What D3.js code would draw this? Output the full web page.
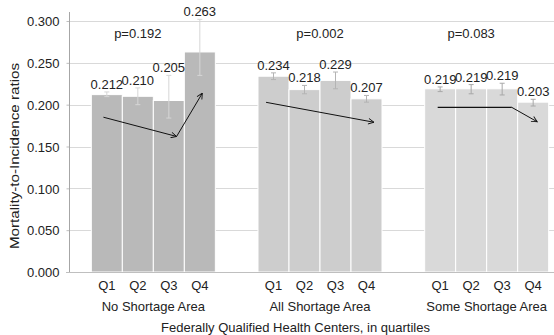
<!DOCTYPE html>
<html><head><meta charset="utf-8">
<script src="https://cdn.jsdelivr.net/npm/d3@7"></script>
<style>html,body{margin:0;padding:0;background:#fff;overflow:hidden}svg{display:block;font-family:"Liberation Sans",Arial,sans-serif}</style>
</head><body><div id="chart"></div>
<script>
const groups = ["No Shortage Area", "All Shortage Area", "Some Shortage Area"];
const quartiles = ["Q1", "Q2", "Q3", "Q4"];
const noShortage = [0.212, 0.210, 0.205, 0.263];
const allShortage = [0.234, 0.218, 0.229, 0.207];
const someShortage = [0.219, 0.219, 0.219, 0.203];
const errLow = [[0.2096, 0.200, 0.184, 0.235], [0.230, 0.213, 0.219, 0.203], [0.2156, 0.213, 0.2116, 0.1984]];
const errHigh = [[0.2152, 0.220, 0.235, 0.302], [0.238, 0.223, 0.239, 0.211], [0.2212, 0.224, 0.2256, 0.2064]];
const pLabels = ["p=0.192", "p=0.002", "p=0.083"];
const pAt = [1, 1.5, 1];
const pValue = 0.28;
const yTicks = [0, 0.05, 0.10, 0.15, 0.20, 0.25, 0.30];
// trend arrows: [quartile position, value]
const trends = [
  [[-0.11, 0.185], [2.25, 0.162], [3.08, 0.2137]],
  [[-0.24, 0.2028], [3.24, 0.179]],
  [[-0.08, 0.1968], [2.31, 0.1968], [3.13, 0.1796]]
];
const trendHeads = [[true, true], [true], [false, true]];
const values = [noShortage, allShortage, someShortage];

const W = 554, H = 335;
const barColors = ["#b9b9b9", "#cdcdcd", "#d9d9d9"];
const errColors = ["#d6d6d6", "#b4b4b4", "#a8a8a8"];

const svg = d3.select("#chart").append("svg").attr("width", W).attr("height", H);
const defs = svg.append("defs");
defs.append("marker").attr("id", "arr").attr("viewBox", "0 0 10 10").attr("refX", 9).attr("refY", 5)
  .attr("markerWidth", 7).attr("markerHeight", 7).attr("markerUnits", "userSpaceOnUse").attr("orient", "auto")
  .append("path").attr("d", "M1,1 L9,5 L1,9").attr("fill", "none").attr("stroke", "#111").attr("stroke-width", 1.3);

const y = d3.scaleLinear().domain([0, 0.3]).range([272, 21]);
const xg = d3.scaleBand().domain(groups).range([70, 570]).paddingInner(0.256).paddingOuter(0.128);
const xq = d3.scaleBand().domain(quartiles).range([0, xg.bandwidth()]).padding(0);
const qx = (g, pos) => xg(groups[g]) + (pos + 0.5) * xq.bandwidth();

// gridlines
svg.append("g").selectAll("line").data(yTicks.filter(d => d > 0)).join("line")
  .attr("x1", 69).attr("x2", W).attr("y1", d => Math.round(y(d)) + 0.5).attr("y2", d => Math.round(y(d)) + 0.5)
  .attr("stroke", "#d9d9d9").attr("stroke-width", 1);

// y axis
const yAxis = d3.axisLeft(y).tickValues(yTicks).tickFormat(d3.format(".3f")).tickSize(3).tickPadding(7);
const ya = svg.append("g").attr("transform", "translate(69.5,0)").call(yAxis);
ya.select(".domain").remove();
ya.selectAll(".tick line").attr("stroke", "#bfbfbf");
ya.selectAll(".tick text").attr("font-size", 13).attr("fill", "#222").attr("font-family", "Liberation Sans, Arial, sans-serif").attr("dy", "0.36em");
svg.append("line").attr("x1", 69.5).attr("x2", 69.5).attr("y1", 12).attr("y2", 272).attr("stroke", "#a6a6a6");

// bars
groups.forEach((g, gi) => {
  const gg = svg.append("g").attr("transform", `translate(${xg(g)},0)`);
  gg.selectAll("rect").data(values[gi]).join("rect")
    .attr("x", (d, i) => xq(quartiles[i])).attr("width", xq.bandwidth())
    .attr("y", d => y(d)).attr("height", d => y(0) - y(d))
    .attr("fill", barColors[gi]).attr("stroke", "#fff").attr("stroke-width", 1);
  // error bars
  values[gi].forEach((v, i) => {
    const cx = xq(quartiles[i]) + xq.bandwidth() / 2;
    const e = gg.append("g").attr("stroke", errColors[gi]).attr("stroke-width", 1);
    e.append("line").attr("x1", cx).attr("x2", cx).attr("y1", y(errLow[gi][i])).attr("y2", y(errHigh[gi][i]));
    e.append("line").attr("x1", cx - 2.5).attr("x2", cx + 2.5).attr("y1", y(errLow[gi][i])).attr("y2", y(errLow[gi][i]));
    e.append("line").attr("x1", cx - 2.5).attr("x2", cx + 2.5).attr("y1", y(errHigh[gi][i])).attr("y2", y(errHigh[gi][i]));
  });
  // value labels
  gg.selectAll("text.v").data(values[gi]).join("text").attr("class", "v")
    .attr("x", (d, i) => xq(quartiles[i]) + xq.bandwidth() / 2)
    .attr("y", (d, i) => y(errHigh[gi][i]) - 3)
    .attr("text-anchor", "middle").attr("font-size", 13).attr("fill", "#222")
    .text(d => d3.format(".3f")(d));
  // p label
  svg.append("text").attr("x", qx(gi, pAt[gi])).attr("y", y(pValue)).attr("text-anchor", "middle")
    .attr("font-size", 13).attr("fill", "#222").text(pLabels[gi]);
  // quartile labels
  gg.selectAll("text.q").data(quartiles).join("text").attr("class", "q")
    .attr("x", d => xq(d) + xq.bandwidth() / 2).attr("y", 290).attr("text-anchor", "middle")
    .attr("font-size", 13).attr("fill", "#222").text(d => d);
  gg.append("text").attr("x", xg.bandwidth() / 2).attr("y", 311).attr("text-anchor", "middle")
    .attr("font-size", 13).attr("fill", "#222").text(g);
  // trend arrows
  const pts = trends[gi];
  for (let k = 0; k < pts.length - 1; k++) {
    const ln = svg.append("line")
      .attr("x1", qx(gi, pts[k][0])).attr("y1", y(pts[k][1]))
      .attr("x2", qx(gi, pts[k + 1][0])).attr("y2", y(pts[k + 1][1]))
      .attr("stroke", "#111").attr("stroke-width", trendHeads[gi][k] ? 1 : 1.4);
    if (trendHeads[gi][k]) ln.attr("marker-end", "url(#arr)");
  }
});

// x axis line
svg.append("line").attr("x1", 66).attr("x2", W).attr("y1", 272.5).attr("y2", 272.5).attr("stroke", "#bfbfbf");

// axis titles
svg.append("text").attr("transform", "translate(19,156) rotate(-90)").attr("text-anchor", "middle")
  .attr("font-size", 13).attr("fill", "#222").attr("textLength", 186).attr("lengthAdjust", "spacingAndGlyphs")
  .text("Mortality-to-Incidence ratios");
svg.append("text").attr("x", 295.5).attr("y", 332).attr("text-anchor", "middle")
  .attr("font-size", 13).attr("fill", "#222").text("Federally Qualified Health Centers, in quartiles");
</script></body></html>
